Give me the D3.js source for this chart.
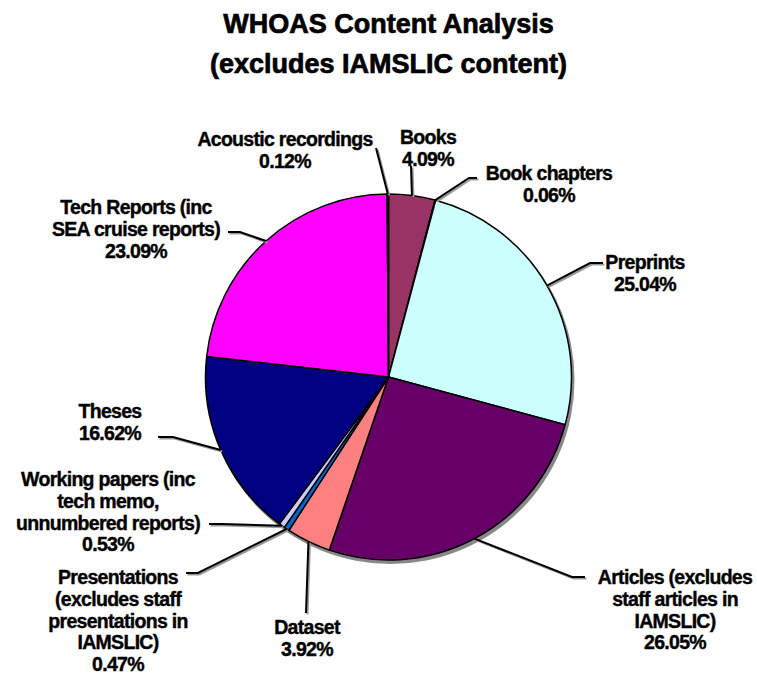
<!DOCTYPE html>
<html>
<head>
<meta charset="utf-8">
<script src="https://cdn.jsdelivr.net/npm/d3@7"></script>
<style>
  body { margin: 0; background: #fff; }
  text { font-family: "Liberation Sans", Arial, sans-serif; font-weight: bold; fill: #000; }
</style>
</head>
<body>
<div class="chart"></div>
<script>
// categories and values, clockwise from 12 o'clock
const categories = [
  "Books", "Book chapters", "Preprints",
  "Articles (excludes staff articles in IAMSLIC)", "Dataset",
  "Presentations (excludes staff presentations in IAMSLIC)",
  "Working papers (inc tech memo, unnumbered reports)", "Theses",
  "Tech Reports (inc SEA cruise reports)", "Acoustic recordings"
];
const values = [4.09, 0.06, 25.04, 26.05, 3.92, 0.47, 0.53, 16.62, 23.09, 0.12];
const colors = ["#993366", "#ffffcc", "#ccffff", "#660066", "#ff8080",
                "#0066cc", "#ccccff", "#000080", "#ff00ff", "#ffff00"];
const valueLabels = ["4.09%", "0.06%", "25.04%", "26.05%", "3.92%",
                     "0.47%", "0.53%", "16.62%", "23.09%", "0.12%"];

// how each label is broken and where it sits
const labelLines = [
  ["Books"], ["Book chapters"], ["Preprints"],
  ["Articles (excludes", "staff articles in", "IAMSLIC)"], ["Dataset"],
  ["Presentations", "(excludes staff", "presentations in", "IAMSLIC)"],
  ["Working papers (inc", "tech memo,", "unnumbered reports)"], ["Theses"],
  ["Tech Reports (inc", "SEA cruise reports)"], ["Acoustic recordings"]
];
// label centre x, first baseline y, leader start [x,y], elbow [x,y]
const labelLayout = [
  { x: 428, y: 144, start: [411, 166], elbow: null },
  { x: 549, y: 180, start: [477, 178], elbow: [469, 178] },
  { x: 645, y: 269, start: [603, 263], elbow: [590, 263] },
  { x: 675, y: 584, start: [585, 577], elbow: [572, 577] },
  { x: 307, y: 634, start: [306, 613], elbow: null },
  { x: 118, y: 584, start: [186, 573], elbow: [198, 573] },
  { x: 108, y: 486, start: [209, 524], elbow: [222, 524] },
  { x: 110, y: 418, start: [158, 437], elbow: [173, 437] },
  { x: 136, y: 214, start: [228, 232], elbow: [240, 232] },
  { x: 285, y: 146, start: [376, 148], elbow: null }
];

const width = 757, height = 675;
const cx = 388.5, cy = 377, radius = 183;
const lineH = 21.8;

const svg = d3.select(".chart").append("svg")
  .attr("width", width).attr("height", height);

// title
svg.append("text").attr("x", cx).attr("y", 33).attr("text-anchor", "middle")
  .style("font-size", "27px").style("stroke", "#000").style("stroke-width", 0.7)
  .text("WHOAS Content Analysis");
svg.append("text").attr("x", cx).attr("y", 73).attr("text-anchor", "middle")
  .style("font-size", "27px").style("stroke", "#000").style("stroke-width", 0.7)
  .text("(excludes IAMSLIC content)");

const data = categories.map((c, i) => ({ name: c, value: values[i], color: colors[i], i }));

const pie = d3.pie().value(d => d.value).sort(null);
const arcs = pie(data);
const arc = d3.arc().innerRadius(0).outerRadius(radius);

const g = svg.append("g").attr("transform", `translate(${cx},${cy})`);

// soft shadow behind the pie
g.append("circle").attr("cx", 2).attr("cy", 3).attr("r", radius + 1)
  .attr("fill", "#888");

g.selectAll("path.slice").data(arcs).enter().append("path")
  .attr("class", "slice")
  .attr("d", arc)
  .attr("fill", d => d.data.color)
  .attr("stroke", "#000")
  .attr("stroke-width", 1.5)
  .attr("stroke-linejoin", "round");

// leader lines
const edgePoint = d => {
  const a = (d.startAngle + d.endAngle) / 2;
  return [cx + radius * Math.sin(a), cy - radius * Math.cos(a)];
};
const leaderPts = arcs.map((d, i) => {
  const L = labelLayout[i];
  const pts = [L.start];
  if (L.elbow) pts.push(L.elbow);
  pts.push(edgePoint(d));
  return pts;
});
const line = d3.line();
svg.selectAll("path.leader-shadow").data(leaderPts).enter().append("path")
  .attr("d", p => line(p.map(q => [q[0] + 1.5, q[1] + 1.5])))
  .attr("fill", "none").attr("stroke", "#999").attr("stroke-width", 2);
svg.selectAll("path.leader").data(leaderPts).enter().append("path")
  .attr("d", line)
  .attr("fill", "none").attr("stroke", "#000").attr("stroke-width", 2);

// labels
arcs.forEach((d, i) => {
  const L = labelLayout[i];
  const t = svg.append("text").attr("text-anchor", "middle")
    .style("font-size", "19.5px").style("letter-spacing", "-0.7px")
    .style("stroke", "#000").style("stroke-width", 0.4);
  labelLines[i].concat([valueLabels[i]]).forEach((s, k) => {
    t.append("tspan").attr("x", L.x).attr("y", L.y + k * lineH).text(s);
  });
});
</script>
</body>
</html>
